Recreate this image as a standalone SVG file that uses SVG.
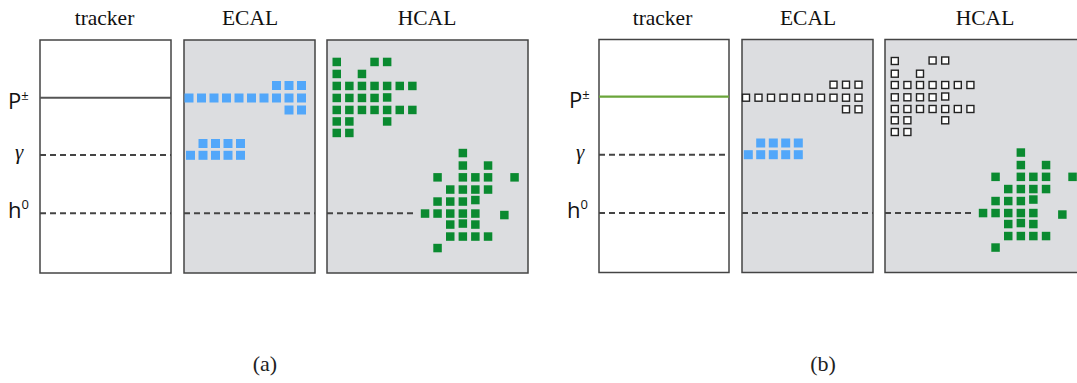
<svg xmlns="http://www.w3.org/2000/svg" width="1077" height="383" viewBox="0 0 1077 383">
<style>
.title{font-family:"Liberation Serif",serif;font-size:21.5px;fill:#111;text-anchor:middle}
.cap{font-family:"Liberation Serif",serif;font-size:22px;fill:#222;text-anchor:middle}
.lab{font-family:"Open Sans","Liberation Sans",sans-serif;font-size:22px;fill:#111}
.sup{font-size:13px}
.gam{font-family:"Liberation Serif",serif;font-style:italic;font-size:21px;fill:#111}
.trk{fill:#fff;stroke:#444;stroke-width:1.5}
.cal{fill:#dcdde0;stroke:#444;stroke-width:1.5}
.blue rect{fill:#52a7fa}
.green rect{fill:#0a8a30}
.white rect{fill:#fff;stroke:#222;stroke-width:1.4}
.dash{stroke:#444;stroke-width:2;stroke-dasharray:6 4;fill:none}
.solid{stroke:#555;stroke-width:2}
.pgreen{stroke:#6aa53a;stroke-width:2.2}
</style>

<!-- Panel (a) -->
<g id="titles-a">
<text class="title" x="104.5" y="25">tracker</text>
<text class="title" x="250" y="25">ECAL</text>
<text class="title" x="427" y="25">HCAL</text>
</g>
<g id="labels-a">
<text class="lab" x="8" y="108.5">P<tspan class="sup" dy="-9">±</tspan></text>
<text class="gam" x="15" y="159">γ</text>
<text class="lab" x="8" y="217.5">h<tspan class="sup" dy="-9">0</tspan></text>
</g>
<g id="tracker-a"><rect class="trk" x="40" y="40" width="131" height="233"/></g>
<g id="ecal-a">
<rect class="cal" x="184" y="40" width="131" height="233"/>
<g class="blue">
<rect x="272" y="81" width="9" height="9"/><rect x="284.5" y="81" width="9" height="9"/><rect x="297" y="81" width="9" height="9"/>
<rect x="184.5" y="93.5" width="9" height="9"/><rect x="197" y="93.5" width="9" height="9"/><rect x="209.5" y="93.5" width="9" height="9"/><rect x="222" y="93.5" width="9" height="9"/><rect x="234.5" y="93.5" width="9" height="9"/><rect x="247" y="93.5" width="9" height="9"/><rect x="259.5" y="93.5" width="9" height="9"/><rect x="272" y="93.5" width="9" height="9"/><rect x="284.5" y="93.5" width="9" height="9"/><rect x="297" y="93.5" width="9" height="9"/>
<rect x="284.5" y="105.5" width="9" height="9"/><rect x="297" y="105.5" width="9" height="9"/>
<rect x="198.5" y="139" width="9" height="9"/><rect x="211" y="139" width="9" height="9"/><rect x="223.5" y="139" width="9" height="9"/><rect x="236" y="139" width="9" height="9"/>
<rect x="186" y="150.8" width="9" height="9"/><rect x="198.5" y="150.8" width="9" height="9"/><rect x="211" y="150.8" width="9" height="9"/><rect x="223.5" y="150.8" width="9" height="9"/><rect x="236" y="150.8" width="9" height="9"/>
</g>
</g>
<g id="hcal-a">
<rect class="cal" x="327" y="40" width="201" height="233"/>
<g class="green">
<rect x="332.5" y="57.7" width="8.5" height="8.5"/><rect x="370.3" y="57.7" width="8.5" height="8.5"/><rect x="382.9" y="57.7" width="8.5" height="8.5"/>
<rect x="332.5" y="69.7" width="8.5" height="8.5"/><rect x="357.7" y="69.7" width="8.5" height="8.5"/>
<rect x="332.5" y="81.7" width="8.5" height="8.5"/><rect x="345.1" y="81.7" width="8.5" height="8.5"/><rect x="357.7" y="81.7" width="8.5" height="8.5"/><rect x="370.3" y="81.7" width="8.5" height="8.5"/><rect x="382.9" y="81.7" width="8.5" height="8.5"/><rect x="395.5" y="81.7" width="8.5" height="8.5"/><rect x="408.1" y="81.7" width="8.5" height="8.5"/>
<rect x="332.5" y="93.7" width="8.5" height="8.5"/><rect x="345.1" y="93.7" width="8.5" height="8.5"/><rect x="357.7" y="93.7" width="8.5" height="8.5"/><rect x="370.3" y="93.7" width="8.5" height="8.5"/><rect x="382.9" y="93.2" width="8.5" height="8.5"/>
<rect x="332.5" y="105.7" width="8.5" height="8.5"/><rect x="345.1" y="105.7" width="8.5" height="8.5"/><rect x="357.7" y="105.7" width="8.5" height="8.5"/><rect x="370.3" y="105.7" width="8.5" height="8.5"/><rect x="382.9" y="105.7" width="8.5" height="8.5"/><rect x="395.5" y="105.7" width="8.5" height="8.5"/><rect x="408.1" y="105.7" width="8.5" height="8.5"/>
<rect x="332.5" y="117.2" width="8.5" height="8.5"/><rect x="345.1" y="117.2" width="8.5" height="8.5"/><rect x="382.9" y="117.2" width="8.5" height="8.5"/>
<rect x="332.5" y="128.7" width="8.5" height="8.5"/><rect x="345.1" y="128.7" width="8.5" height="8.5"/>
</g>
<g class="green">
<rect x="458.6" y="148.8" width="8.5" height="8.5"/>
<rect x="458.6" y="161.3" width="8.5" height="8.5"/><rect x="483.8" y="161.3" width="8.5" height="8.5"/>
<rect x="433.3" y="173.1" width="8.5" height="8.5"/><rect x="458.6" y="173.1" width="8.5" height="8.5"/><rect x="471.1" y="173.1" width="8.5" height="8.5"/><rect x="483.8" y="173.1" width="8.5" height="8.5"/><rect x="510.3" y="173.1" width="8.5" height="8.5"/>
<rect x="446" y="185.3" width="8.5" height="8.5"/><rect x="458.6" y="185.3" width="8.5" height="8.5"/><rect x="471.1" y="185.3" width="8.5" height="8.5"/><rect x="483.8" y="185.3" width="8.5" height="8.5"/>
<rect x="433.3" y="197.3" width="8.5" height="8.5"/><rect x="446" y="197.3" width="8.5" height="8.5"/><rect x="458.6" y="197.3" width="8.5" height="8.5"/><rect x="471.1" y="195.8" width="8.5" height="8.5"/>
<rect x="420.8" y="209.3" width="8.5" height="8.5"/><rect x="433.3" y="209.3" width="8.5" height="8.5"/><rect x="446" y="209.3" width="8.5" height="8.5"/><rect x="458.6" y="209.3" width="8.5" height="8.5"/><rect x="471.1" y="209.3" width="8.5" height="8.5"/><rect x="500.1" y="210.8" width="8.5" height="8.5"/>
<rect x="446" y="220.3" width="8.5" height="8.5"/><rect x="458.6" y="219.3" width="8.5" height="8.5"/><rect x="471.1" y="220.3" width="8.5" height="8.5"/>
<rect x="446" y="232.3" width="8.5" height="8.5"/><rect x="458.6" y="232.3" width="8.5" height="8.5"/><rect x="471.1" y="232.3" width="8.5" height="8.5"/><rect x="483.8" y="232.3" width="8.5" height="8.5"/>
<rect x="433.3" y="243.8" width="8.5" height="8.5"/>
</g>
</g>
<text id="caption-a" class="cap" x="265" y="370.5">(a)</text>

<!-- Panel (b) -->
<g id="titles-b">
<text class="title" x="662.5" y="25">tracker</text>
<text class="title" x="808" y="25">ECAL</text>
<text class="title" x="985" y="25">HCAL</text>
</g>
<g id="labels-b">
<text class="lab" x="569" y="107.5">P<tspan class="sup" dy="-9">±</tspan></text>
<text class="gam" x="576" y="158.5">γ</text>
<text class="lab" x="567" y="217.5">h<tspan class="sup" dy="-9">0</tspan></text>
</g>
<g id="tracker-b"><rect class="trk" x="599" y="39.5" width="130" height="233"/></g>
<g id="ecal-b">
<rect class="cal" x="742" y="39.5" width="131" height="233"/>
<g class="white">
<rect x="830" y="81.2" width="7" height="7"/><rect x="842.5" y="81.2" width="7" height="7"/><rect x="855" y="81.2" width="7" height="7"/>
<rect x="742.5" y="94.2" width="7" height="7"/><rect x="755" y="94.2" width="7" height="7"/><rect x="767.5" y="94.2" width="7" height="7"/><rect x="780" y="94.2" width="7" height="7"/><rect x="792.5" y="94.2" width="7" height="7"/><rect x="805" y="94.2" width="7" height="7"/><rect x="817.5" y="94.2" width="7" height="7"/><rect x="830" y="94.2" width="7" height="7"/><rect x="842.5" y="94.2" width="7" height="7"/><rect x="855" y="94.2" width="7" height="7"/>
<rect x="842.5" y="105.8" width="7" height="7"/><rect x="855" y="105.8" width="7" height="7"/>
</g>
<g class="blue">
<rect x="756.2" y="138.5" width="9" height="9"/><rect x="768.8" y="138.5" width="9" height="9"/><rect x="781.2" y="138.5" width="9" height="9"/><rect x="793.8" y="138.5" width="9" height="9"/>
<rect x="743.8" y="150.2" width="9" height="9"/><rect x="756.2" y="150.2" width="9" height="9"/><rect x="768.8" y="150.2" width="9" height="9"/><rect x="781.2" y="150.2" width="9" height="9"/><rect x="793.8" y="150.2" width="9" height="9"/>
</g>
</g>
<g id="hcal-b">
<rect class="cal" x="885" y="39.5" width="201" height="233"/>
<g class="white">
<rect x="891.3" y="57.5" width="7" height="7"/><rect x="929.1" y="57" width="7" height="7"/><rect x="941.7" y="57" width="7" height="7"/>
<rect x="891.3" y="70.2" width="7" height="7"/><rect x="916.5" y="70.2" width="7" height="7"/>
<rect x="891.3" y="81.5" width="7" height="7"/><rect x="903.9" y="81.5" width="7" height="7"/><rect x="916.5" y="81.5" width="7" height="7"/><rect x="929.1" y="81.5" width="7" height="7"/><rect x="941.7" y="81.5" width="7" height="7"/><rect x="954.3" y="81.5" width="7" height="7"/><rect x="966.9" y="81.5" width="7" height="7"/>
<rect x="891.3" y="93.8" width="7" height="7"/><rect x="903.9" y="93.8" width="7" height="7"/><rect x="916.5" y="93.8" width="7" height="7"/><rect x="929.1" y="93.8" width="7" height="7"/><rect x="941.7" y="93" width="7" height="7"/>
<rect x="891.3" y="105.5" width="7" height="7"/><rect x="903.9" y="105.5" width="7" height="7"/><rect x="916.5" y="105.5" width="7" height="7"/><rect x="929.1" y="105.5" width="7" height="7"/><rect x="941.7" y="105.5" width="7" height="7"/><rect x="954.3" y="105.5" width="7" height="7"/><rect x="966.9" y="105.5" width="7" height="7"/>
<rect x="891.3" y="116.8" width="7" height="7"/><rect x="903.9" y="116.8" width="7" height="7"/><rect x="941.7" y="116.8" width="7" height="7"/>
<rect x="891.3" y="128.5" width="7" height="7"/><rect x="903.9" y="128.5" width="7" height="7"/>
</g>
<g class="green">
<rect x="1016.6" y="148.3" width="8.5" height="8.5"/>
<rect x="1016.6" y="160.8" width="8.5" height="8.5"/><rect x="1041.8" y="160.8" width="8.5" height="8.5"/>
<rect x="991.3" y="172.6" width="8.5" height="8.5"/><rect x="1016.6" y="172.6" width="8.5" height="8.5"/><rect x="1029.1" y="172.6" width="8.5" height="8.5"/><rect x="1041.8" y="172.6" width="8.5" height="8.5"/><rect x="1068.3" y="172.6" width="8.5" height="8.5"/>
<rect x="1004" y="184.8" width="8.5" height="8.5"/><rect x="1016.6" y="184.8" width="8.5" height="8.5"/><rect x="1029.1" y="184.8" width="8.5" height="8.5"/><rect x="1041.8" y="184.8" width="8.5" height="8.5"/>
<rect x="991.3" y="196.8" width="8.5" height="8.5"/><rect x="1004" y="196.8" width="8.5" height="8.5"/><rect x="1016.6" y="196.8" width="8.5" height="8.5"/><rect x="1029.1" y="195.3" width="8.5" height="8.5"/>
<rect x="978.8" y="208.8" width="8.5" height="8.5"/><rect x="991.3" y="208.8" width="8.5" height="8.5"/><rect x="1004" y="208.8" width="8.5" height="8.5"/><rect x="1016.6" y="208.8" width="8.5" height="8.5"/><rect x="1029.1" y="208.8" width="8.5" height="8.5"/><rect x="1058.1" y="210.3" width="8.5" height="8.5"/>
<rect x="1004" y="219.8" width="8.5" height="8.5"/><rect x="1016.6" y="218.8" width="8.5" height="8.5"/><rect x="1029.1" y="219.8" width="8.5" height="8.5"/>
<rect x="1004" y="231.8" width="8.5" height="8.5"/><rect x="1016.6" y="231.8" width="8.5" height="8.5"/><rect x="1029.1" y="231.8" width="8.5" height="8.5"/><rect x="1041.8" y="231.8" width="8.5" height="8.5"/>
<rect x="991.3" y="243.3" width="8.5" height="8.5"/>
</g>
</g>
<text id="caption-b" class="cap" x="823" y="370.5">(b)</text>

<!-- Tracks (connectors) -->
<g id="tracks">
<line class="solid" x1="40" y1="97.7" x2="171" y2="97.7"/>
<line class="dash" x1="40" y1="155" x2="171" y2="155"/>
<line class="dash" x1="40" y1="213.3" x2="171" y2="213.3"/>
<line class="dash" x1="184" y1="213.3" x2="315" y2="213.3"/>
<line class="dash" x1="327" y1="213.3" x2="417" y2="213.3"/>
<line class="pgreen" x1="599" y1="96.7" x2="729" y2="96.7"/>
<line class="dash" x1="599" y1="154.7" x2="729" y2="154.7"/>
<line class="dash" x1="599" y1="213" x2="729" y2="213"/>
<line class="dash" x1="742" y1="213" x2="873" y2="213"/>
<line class="dash" x1="885" y1="213" x2="975" y2="213"/>
</g>
</svg>
